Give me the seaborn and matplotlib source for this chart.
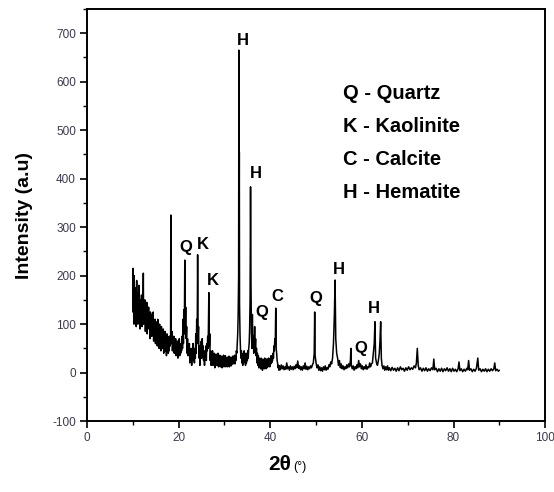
import matplotlib
matplotlib.use("Agg")
import matplotlib.pyplot as plt
import seaborn as sns
import pandas as pd
from matplotlib.ticker import MultipleLocator

# ---- data: (2theta, intensity) pairs ----
seg_10_18 = [
    (10.0, 125), (10.05, 215), (10.1, 135), (10.2, 170), (10.25, 100), (10.3, 200),
    (10.4, 150), (10.45, 115), (10.5, 175), (10.6, 120), (10.7, 145), (10.75, 95),
    (10.85, 190), (10.9, 130), (11.0, 155), (11.1, 100), (11.2, 165), (11.25, 125),
    (11.35, 180), (11.45, 105), (11.55, 130), (11.6, 90), (11.7, 150), (11.8, 115),
    (11.9, 160), (12.0, 95), (12.1, 135), (12.2, 110), (12.3, 205), (12.35, 100),
    (12.45, 140), (12.55, 115), (12.65, 150), (12.75, 85), (12.85, 130), (12.95, 105),
    (13.05, 145), (13.15, 80), (13.25, 120), (13.35, 95), (13.45, 135), (13.55, 90),
    (13.65, 115), (13.75, 70), (13.85, 125), (13.95, 95), (14.05, 120), (14.15, 75),
    (14.25, 110), (14.35, 85), (14.45, 125), (14.55, 65), (14.65, 100), (14.75, 80),
    (14.85, 110), (14.95, 60), (15.05, 105), (15.15, 75), (15.25, 95), (15.35, 55),
    (15.45, 110), (15.55, 70), (15.65, 90), (15.75, 50), (15.85, 100), (15.95, 65),
    (16.05, 85), (16.15, 45), (16.25, 95), (16.35, 60), (16.45, 80), (16.55, 50),
    (16.65, 90), (16.75, 40), (16.85, 75), (16.95, 55), (17.05, 85), (17.15, 45),
    (17.25, 70), (17.35, 35), (17.45, 80), (17.55, 50), (17.65, 75), (17.75, 40),
    (17.85, 70), (17.95, 45),
]
seg_18_27 = [
    (18.05, 75), (18.15, 55), (18.25, 80), (18.3, 325), (18.35, 70), (18.45, 60),
    (18.55, 85), (18.65, 45), (18.75, 65), (18.85, 50), (18.95, 75), (19.05, 40),
    (19.15, 60), (19.25, 45), (19.35, 70), (19.45, 35), (19.55, 55), (19.65, 45),
    (19.75, 65), (19.85, 30), (19.95, 55), (20.05, 45), (20.15, 70), (20.25, 35),
    (20.35, 60), (20.45, 40), (20.55, 55), (20.65, 45), (20.75, 75), (20.85, 50),
    (20.95, 110), (21.05, 60), (21.15, 130), (21.25, 80), (21.35, 232), (21.45, 90),
    (21.55, 135), (21.65, 70), (21.75, 95), (21.85, 40), (21.95, 70), (22.05, 35),
    (22.15, 55), (22.25, 40), (22.35, 60), (22.45, 20), (22.55, 45), (22.65, 30),
    (22.75, 50), (22.85, 15), (22.95, 40), (23.05, 30), (23.15, 60), (23.25, 25),
    (23.35, 45), (23.45, 20), (23.55, 50), (23.65, 30), (23.75, 80), (23.85, 40),
    (23.95, 110), (24.05, 60), (24.15, 243), (24.25, 70), (24.35, 95), (24.45, 30),
    (24.55, 55), (24.65, 15), (24.75, 45), (24.85, 30), (24.95, 65), (25.05, 30),
    (25.15, 70), (25.25, 40), (25.35, 55), (25.45, 25), (25.55, 45), (25.65, 15),
    (25.75, 40), (25.85, 30), (25.95, 55), (26.05, 25), (26.15, 60), (26.25, 45),
    (26.35, 75), (26.45, 50), (26.6, 165), (26.7, 55), (26.8, 80), (26.9, 25),
]
seg_27_37 = [
    (27.0, 45), (27.1, 15), (27.2, 40), (27.3, 25), (27.4, 45), (27.5, 15),
    (27.6, 35), (27.7, 20), (27.8, 40), (27.9, 10), (28.0, 30), (28.1, 22),
    (28.2, 38), (28.3, 15), (28.4, 35), (28.5, 25), (28.6, 40), (28.7, 12),
    (28.8, 30), (28.9, 20), (29.0, 36), (29.1, 12), (29.2, 28), (29.3, 18),
    (29.4, 34), (29.5, 10), (29.6, 30), (29.7, 20), (29.8, 36), (29.9, 12),
    (30.0, 28), (30.1, 18), (30.2, 35), (30.3, 12), (30.4, 26), (30.5, 20),
    (30.6, 32), (30.7, 12), (30.8, 28), (30.9, 18), (31.0, 34), (31.1, 12),
    (31.2, 26), (31.3, 18), (31.4, 32), (31.5, 14), (31.6, 28), (31.7, 18),
    (31.8, 34), (31.9, 18), (32.0, 30), (32.1, 22), (32.2, 36), (32.3, 18),
    (32.4, 35), (32.5, 25), (32.6, 45), (32.7, 40), (32.8, 60), (32.9, 80),
    (33.0, 120), (33.1, 200), (33.15, 665), (33.2, 250), (33.25, 455), (33.3, 140),
    (33.4, 80), (33.5, 50), (33.6, 30), (33.7, 45), (33.8, 20), (33.9, 35),
    (34.0, 15), (34.1, 40), (34.2, 20), (34.3, 45), (34.4, 25), (34.5, 40),
    (34.6, 15), (34.7, 35), (34.8, 20), (34.9, 40), (35.0, 25), (35.1, 45),
    (35.2, 30), (35.3, 50), (35.4, 60), (35.5, 90), (35.6, 150), (35.7, 383),
    (35.8, 180), (35.9, 80), (36.0, 50), (36.1, 120), (36.2, 60), (36.3, 75),
    (36.4, 40), (36.5, 60), (36.6, 95), (36.7, 50), (36.8, 70), (36.9, 35),
]
seg_37_50 = [
    (37.0, 50), (37.1, 20), (37.2, 40), (37.3, 15), (37.4, 35), (37.5, 10),
    (37.6, 30), (37.7, 12), (37.8, 28), (37.9, 8), (38.0, 30), (38.1, 10),
    (38.2, 25), (38.3, 5), (38.4, 28), (38.5, 10), (38.6, 25), (38.7, 8),
    (38.8, 30), (38.9, 12), (39.0, 25), (39.1, 8), (39.2, 28), (39.3, 10),
    (39.4, 25), (39.5, 12), (39.6, 30), (39.7, 15), (39.8, 28), (39.9, 12),
    (40.0, 30), (40.1, 18), (40.2, 35), (40.3, 20), (40.4, 30), (40.5, 25),
    (40.6, 40), (40.7, 30), (40.8, 55), (40.9, 45), (41.0, 70), (41.1, 60),
    (41.2, 133), (41.3, 50), (41.4, 40), (41.5, 25), (41.6, 20), (41.7, 10),
    (41.8, 15), (41.9, 5), (42.0, 14), (42.2, 6), (42.4, 16), (42.6, 8),
    (42.8, 14), (43.0, 6), (43.2, 12), (43.4, 7), (43.6, 20), (43.8, 8),
    (44.0, 12), (44.2, 5), (44.4, 14), (44.6, 7), (44.8, 12), (45.0, 6),
    (45.2, 13), (45.4, 8), (45.6, 16), (45.8, 10), (46.0, 24), (46.2, 9),
    (46.4, 14), (46.6, 6), (46.8, 12), (47.0, 5), (47.2, 14), (47.4, 8),
    (47.6, 20), (47.8, 7), (48.0, 13), (48.2, 6), (48.4, 12), (48.6, 8),
    (48.8, 14), (49.0, 10), (49.2, 16), (49.4, 20), (49.6, 40), (49.7, 125),
    (49.8, 35),
]
seg_50_65 = [
    (50.0, 20), (50.2, 10), (50.4, 16), (50.6, 5), (50.8, 12), (51.0, 4),
    (51.2, 10), (51.4, 3), (51.6, 12), (51.8, 6), (52.0, 14), (52.2, 5),
    (52.4, 10), (52.6, 7), (52.8, 16), (53.0, 12), (53.2, 22), (53.4, 18),
    (53.6, 30), (53.8, 60), (54.0, 120), (54.15, 191), (54.3, 70), (54.5, 40),
    (54.7, 30), (54.9, 15), (55.1, 25), (55.3, 10), (55.5, 18), (55.7, 8),
    (55.9, 14), (56.1, 6), (56.3, 12), (56.5, 8), (56.7, 16), (56.9, 10),
    (57.1, 18), (57.3, 12), (57.5, 25), (57.6, 50), (57.7, 15), (57.9, 8),
    (58.1, 14), (58.3, 5), (58.5, 12), (58.7, 8), (58.9, 16), (59.1, 10),
    (59.3, 25), (59.5, 12), (59.7, 18), (59.9, 8), (60.1, 14), (60.3, 6),
    (60.5, 12), (60.7, 8), (60.9, 16), (61.1, 7), (61.3, 12), (61.5, 10),
    (61.7, 20), (61.9, 12), (62.1, 18), (62.3, 20), (62.5, 40), (62.7, 60),
    (62.85, 105), (63.0, 30), (63.2, 20), (63.4, 15), (63.6, 25), (63.8, 40),
    (63.95, 65), (64.1, 105), (64.25, 30), (64.4, 15), (64.6, 8), (64.8, 14),
    (65.0, 5), (65.2, 12), (65.4, 6),
]
seg_65_90 = [
    (65.6, 14), (65.8, 5), (66.0, 10), (66.3, 4), (66.6, 11), (66.9, 5),
    (67.2, 9), (67.5, 3), (67.8, 10), (68.1, 4), (68.4, 12), (68.7, 6),
    (69.0, 9), (69.3, 3), (69.6, 10), (69.9, 5), (70.2, 12), (70.5, 6),
    (70.8, 10), (71.1, 7), (71.4, 14), (71.7, 10), (71.9, 20), (72.1, 50),
    (72.3, 15), (72.5, 6), (72.8, 10), (73.1, 3), (73.4, 9), (73.7, 4),
    (74.0, 10), (74.3, 3), (74.6, 8), (74.9, 4), (75.2, 10), (75.5, 6),
    (75.7, 28), (75.9, 6), (76.2, 9), (76.5, 2), (76.8, 8), (77.1, 3),
    (77.4, 9), (77.7, 2), (78.0, 8), (78.3, 4), (78.6, 10), (78.9, 3),
    (79.2, 8), (79.5, 2), (79.8, 9), (80.1, 3), (80.4, 7), (80.7, 2),
    (81.0, 8), (81.2, 22), (81.4, 4), (81.7, 8), (82.0, 2), (82.3, 7),
    (82.6, 3), (82.9, 9), (83.1, 6), (83.3, 25), (83.5, 5), (83.8, 8),
    (84.1, 2), (84.4, 7), (84.7, 3), (85.0, 9), (85.3, 30), (85.5, 5),
    (85.8, 8), (86.1, 2), (86.4, 7), (86.7, 3), (87.0, 8), (87.3, 2),
    (87.6, 7), (87.9, 3), (88.2, 8), (88.5, 4), (88.8, 8), (89.0, 20),
    (89.2, 4), (89.5, 7), (89.8, 3), (90.0, 5),
]

# peak labels: (letter, 2theta, intensity)
peak_letters = ["H", "H", "Q", "K", "K", "Q", "C", "Q", "H", "Q", "H"]
peak_x = [34.1, 36.9, 21.6, 25.3, 27.5, 38.2, 41.5, 50.0, 55.0, 59.8, 62.7]
peak_y = [685, 411, 259, 265, 189, 123, 158, 152, 212, 49, 132]

legend_lines = ["Q - Quartz", "K - Kaolinite", "C - Calcite", "H - Hematite"]
legend_y = [576, 508, 440, 372]

points = seg_10_18 + seg_18_27 + seg_27_37 + seg_37_50 + seg_50_65 + seg_65_90
df = pd.DataFrame(points, columns=["two_theta", "intensity"])

sns.set_theme(style="ticks")
plt.rcParams["font.family"] = ["Liberation Sans", "DejaVu Sans"]
plt.rcParams["axes.unicode_minus"] = False
plt.rcParams["text.color"] = "black"
plt.rcParams["axes.labelcolor"] = "black"

fig = plt.figure(figsize=(5.54, 4.92), dpi=100)
ax = fig.add_axes([0.157, 0.144, 0.827, 0.838])

sns.lineplot(data=df, x="two_theta", y="intensity", ax=ax, color="black",
             linewidth=1.1, estimator=None, sort=False)

ax.set_xlim(0, 100)
ax.xaxis.set_major_locator(MultipleLocator(20))
ax.xaxis.set_minor_locator(MultipleLocator(10))
ax.yaxis.set_major_locator(MultipleLocator(100))
ax.yaxis.set_minor_locator(MultipleLocator(50))
ax.set_yticks(range(-100, 701, 100))
ax.set_ylim(-100, 750)

tick_color = "#3a3a4e"
ax.tick_params(which="major", direction="out", length=5, width=1.2,
               labelsize=8.5, labelcolor=tick_color, color="black", pad=3)
ax.tick_params(which="minor", direction="out", length=3, width=1.0, color="black")
for s in ax.spines.values():
    s.set_linewidth(1.4)
    s.set_color("black")
    s.set_visible(True)

ax.set_xlabel("")
ax.set_ylabel("Intensity (a.u)", fontsize=14, fontweight="bold", color="black")
ax.yaxis.set_label_coords(-0.118, 0.5)

fig.text(0.525, 0.045, "2θ", fontsize=15, fontweight="bold", ha="right", va="baseline", color="black")
fig.text(0.530, 0.045, "(°)", fontsize=9, ha="left", va="baseline", color="black")

for t, x, y in zip(peak_letters, peak_x, peak_y):
    ax.text(x, y, t, fontsize=12, fontweight="bold", ha="center", va="center", color="black")

for t, y in zip(legend_lines, legend_y):
    ax.text(55.9, y, t, fontsize=14.5, fontweight="bold", ha="left", va="center", color="black")

fig.savefig("out.png", dpi=100)
